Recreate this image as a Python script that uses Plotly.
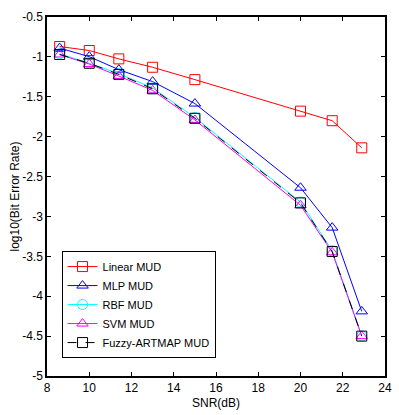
import plotly.graph_objects as go

snr = [8.6, 10, 11.4, 13, 15, 20, 21.5, 22.9]
linear_mud = [-0.87, -0.92, -1.025, -1.13, -1.285, -1.68, -1.80, -2.14]
mlp_mud = [-0.89, -0.997, -1.16, -1.31, -1.585, -2.64, -3.14, -4.19]
rbf_mud = [-0.96, -1.08, -1.21, -1.39, -1.76, -2.82, -3.43, -4.50]
svm_mud = [-0.97, -1.09, -1.24, -1.42, -1.79, -2.86, -3.45, -4.50]
fuzzy_mud = [-0.97, -1.08, -1.22, -1.40, -1.77, -2.83, -3.44, -4.50]

x_ticks = [8, 10, 12, 14, 16, 18, 20, 22, 24]
y_ticks = [-0.5, -1, -1.5, -2, -2.5, -3, -3.5, -4, -4.5, -5]

fig = go.Figure()
series = [
    ("Linear MUD", linear_mud, "#ff0000", "square-open", "solid"),
    ("MLP MUD", mlp_mud, "#0000ff", "triangle-up-open", "solid"),
    ("RBF MUD", rbf_mud, "#00ffff", "circle-open", "solid"),
    ("SVM MUD", svm_mud, "#ff00ff", "triangle-up-open", "solid"),
    ("Fuzzy-ARTMAP MUD", fuzzy_mud, "#000000", "square-open", "dash"),
]
for name, ys, col, sym, dash in series:
    fig.add_trace(go.Scatter(
        x=snr, y=ys, name=name, mode="lines+markers",
        line=dict(color=col, width=1, dash=dash),
        marker=dict(symbol=sym, size=10, color=col, line=dict(width=1, color=col)),
    ))

fig.update_layout(
    width=399, height=415,
    margin=dict(l=47, r=7, t=17, b=33),
    paper_bgcolor="white", plot_bgcolor="white",
    font=dict(family="Liberation Sans, Arial", size=12, color="black"),
    showlegend=True,
    legend=dict(x=0.043, y=0.348, xanchor="left", yanchor="top",
                bordercolor="black", borderwidth=1, bgcolor="white",
                font=dict(size=11), tracegroupgap=0, itemwidth=30),
)
fig.update_xaxes(
    range=[8, 24], tickvals=x_ticks, ticktext=[str(v) for v in x_ticks],
    ticks="inside", ticklen=4, tickcolor="black", showgrid=False, zeroline=False,
    showline=True, linecolor="black", linewidth=1.5, mirror="ticks",
    tickfont=dict(size=12), ticklabeloverflow="allow",
    title=dict(text="SNR(dB)", standoff=4, font=dict(size=12)),
)
fig.update_yaxes(
    range=[-5, -0.5], tickvals=y_ticks, ticktext=[str(v) for v in y_ticks],
    ticks="inside", ticklen=4, tickcolor="black", showgrid=False, zeroline=False,
    showline=True, linecolor="black", linewidth=1.5, mirror="ticks",
    title=dict(text="log10(Bit Error Rate)", standoff=0, font=dict(size=12)),
)
fig.write_html("out.html", config={"displayModeBar": False},
               post_script="document.body.style.margin='0';")
